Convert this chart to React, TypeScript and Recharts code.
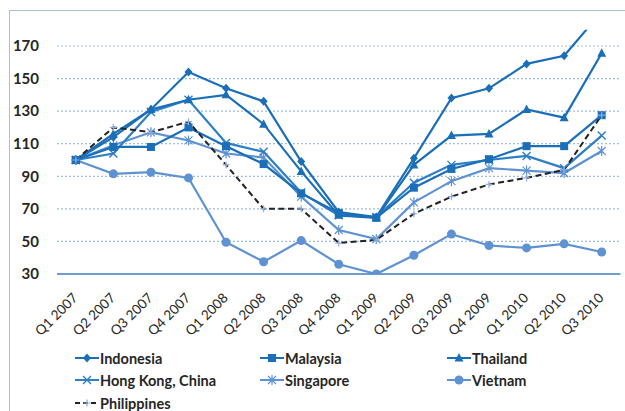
import React from "react";
import { LineChart, Line, XAxis, YAxis, CartesianGrid } from "recharts";

// ── Data ──────────────────────────────────────────────────────────────────────

const quarters = [
  "Q1 2007", "Q2 2007", "Q3 2007", "Q4 2007",
  "Q1 2008", "Q2 2008", "Q3 2008", "Q4 2008",
  "Q1 2009", "Q2 2009", "Q3 2009", "Q4 2009",
  "Q1 2010", "Q2 2010", "Q3 2010",
];

const indonesia = [100, 114, 131, 154, 144, 136, 99, 68, 65, 101, 138, 144, 159, 164, 191];
const malaysia = [100, 108, 108, 120, 108.5, 97.5, 79.5, 67.5, 64.5, 83, 94.5, 100.5, 108.5, 108.5, 127.5];
const thailand = [100, 116, 131, 137, 140, 122, 93, 66, 64.5, 97, 115, 116, 131, 126, 165.5];
const hongKong = [100, 104, 129.5, 137, 110.5, 105, 80, 66, 65, 86, 97, 100, 102.5, 95, 115];
const singapore = [100, 109, 117, 112, 104, 101.5, 77.5, 57, 51.5, 74, 87, 95, 93.5, 92, 105.5];
const vietnam = [100, 91.5, 92.5, 89, 49.5, 37.5, 50.5, 36, 30, 41.5, 54.5, 47.5, 46, 48.5, 43.5];
const philippines = [100, 120, 117, 123.5, 97, 70, 70, 49, 51, 67, 77.5, 85, 89, 94, 127.5];

const yTicks = [30, 50, 70, 90, 110, 130, 150, 170];

// ── Styles ────────────────────────────────────────────────────────────────────

const FONT = "Lato, 'Noto Sans', sans-serif";
const DARK = "#1b6fb9";
const MID = "#2f7fc6";
const LIGHT = "#5f92d2";
const TEXT = "#262626";

type Shape = "diamond" | "square" | "triangle" | "x" | "star" | "circle" | "plus";

interface SeriesDef {
  key: string;
  name: string;
  values: number[];
  color: string;
  shape: Shape;
  dashed?: boolean;
  markerColor?: string;
}

const series: SeriesDef[] = [
  { key: "vietnam", name: "Vietnam", values: vietnam, color: LIGHT, shape: "circle" },
  { key: "singapore", name: "Singapore", values: singapore, color: LIGHT, shape: "star" },
  { key: "hongKong", name: "Hong Kong, China", values: hongKong, color: MID, shape: "x" },
  { key: "malaysia", name: "Malaysia", values: malaysia, color: DARK, shape: "square" },
  { key: "thailand", name: "Thailand", values: thailand, color: DARK, shape: "triangle" },
  { key: "indonesia", name: "Indonesia", values: indonesia, color: DARK, shape: "diamond" },
  { key: "philippines", name: "Philippines", values: philippines, color: "#222", shape: "plus", dashed: true, markerColor: "#8fb0dc" },
];

const legendOrder = ["indonesia", "malaysia", "thailand", "hongKong", "singapore", "vietnam", "philippines"];

const data = quarters.map((q, i) => {
  const row: Record<string, string | number> = { quarter: q };
  series.forEach((s) => {
    row[s.key] = s.values[i];
  });
  return row;
});

// ── Markers ───────────────────────────────────────────────────────────────────

function Marker({ cx, cy, shape, color }: { cx: number; cy: number; shape: Shape; color: string }) {
  switch (shape) {
    case "diamond":
      return <path d={`M${cx},${cy - 4.5}L${cx + 4},${cy}L${cx},${cy + 4.5}L${cx - 4},${cy}Z`} fill={color} />;
    case "square":
      return <rect x={cx - 4} y={cy - 4} width={8} height={8} fill={color} />;
    case "triangle":
      return <path d={`M${cx},${cy - 5}L${cx + 4.5},${cy + 3.5}L${cx - 4.5},${cy + 3.5}Z`} fill={color} />;
    case "x":
      return (
        <path
          d={`M${cx - 4},${cy - 4}L${cx + 4},${cy + 4}M${cx - 4},${cy + 4}L${cx + 4},${cy - 4}`}
          stroke={color}
          strokeWidth={1.4}
        />
      );
    case "star":
      return (
        <path
          d={`M${cx - 4},${cy - 4}L${cx + 4},${cy + 4}M${cx - 4},${cy + 4}L${cx + 4},${cy - 4}M${cx},${cy - 5}L${cx},${cy + 5}`}
          stroke={color}
          strokeWidth={1.2}
        />
      );
    case "circle":
      return <circle cx={cx} cy={cy} r={4.5} fill={color} />;
    case "plus":
      return (
        <path
          d={`M${cx - 3.5},${cy}L${cx + 3.5},${cy}M${cx},${cy - 3.5}L${cx},${cy + 3.5}`}
          stroke={color}
          strokeWidth={1.2}
        />
      );
  }
}

function XTick({ x, y, payload }: { x?: number; y?: number; payload?: { value: string } }) {
  return (
    <g transform={`translate(${x},${(y ?? 0) + 14})`}>
      <text
        transform="rotate(-45)"
        textAnchor="end"
        x={0}
        y={0}
        dy={4}
        fontSize={13.5}
        fontFamily={FONT}
        fill={TEXT}
      >
        {payload?.value}
      </text>
    </g>
  );
}

// ── Legend ────────────────────────────────────────────────────────────────────

const legendCols = [75, 260, 447];
const legendRows = [358, 380, 403];

function LegendItem({ s, left, top }: { s: SeriesDef; left: number; top: number }) {
  return (
    <div
      style={{
        position: "absolute",
        left,
        top: top - 10,
        height: 20,
        display: "flex",
        alignItems: "center",
        fontFamily: FONT,
        fontWeight: 700,
        fontSize: 14.5,
        color: TEXT,
        whiteSpace: "nowrap",
      }}
    >
      <svg width={24} height={20} style={{ marginRight: 1 }}>
        <line
          x1={0}
          y1={10}
          x2={24}
          y2={10}
          stroke={s.color}
          strokeWidth={2}
          strokeDasharray={s.dashed ? "5 3" : undefined}
        />
        <Marker cx={12} cy={10} shape={s.shape} color={s.markerColor ?? s.color} />
      </svg>
      {s.name}
    </div>
  );
}

// ── Main ──────────────────────────────────────────────────────────────────────

export default function App() {
  return (
    <div style={{ position: "absolute", left: 0, top: 0, width: 625, height: 411, background: "#fff", overflow: "hidden" }}>
      <div
        style={{
          position: "absolute",
          left: 9,
          top: 10,
          width: 700,
          height: 500,
          border: "1.5px solid #a9c0dc",
        }}
      />
      <div style={{ position: "absolute", left: 0, top: 0 }}>
        <LineChart width={625} height={411} data={data} margin={{ top: 29.7, right: 4.5, left: 10, bottom: 0 }}>
          <CartesianGrid
            horizontal
            vertical={false}
            stroke="#9dbde2"
            strokeDasharray="2 2"
            strokeWidth={1.2}
            horizontalValues={[50, 70, 90, 110, 130, 150, 170]}
          />
          <XAxis
            dataKey="quarter"
            interval={0}
            padding={{ left: 18.8, right: 18.8 }}
            axisLine={{ stroke: "#3f7cc2", strokeWidth: 1.5 }}
            tickLine={false}
            tick={<XTick />}
            height={137}
          />
          <YAxis
            width={47}
            domain={[30, 180]}
            ticks={yTicks}
            interval={0}
            allowDataOverflow
            axisLine={false}
            tickLine={false}
            tickMargin={12}
            tick={{ fontSize: 15, fontWeight: 700, fill: TEXT, fontFamily: FONT }}
          />
          {series.map((s) => (
            <Line
              key={s.key}
              dataKey={s.key}
              name={s.name}
              type="linear"
              stroke={s.color}
              strokeWidth={s.dashed ? 2 : 2.2}
              strokeDasharray={s.dashed ? "6 3.5" : undefined}
              isAnimationActive={false}
              activeDot={false}
              dot={(p: { cx?: number; cy?: number; index?: number }) => (
                <Marker
                  key={`${s.key}-${p.index}`}
                  cx={p.cx ?? 0}
                  cy={p.cy ?? 0}
                  shape={s.shape}
                  color={s.markerColor ?? s.color}
                />
              )}
            />
          ))}
        </LineChart>
      </div>
      {legendOrder.map((k, i) => {
        const s = series.find((d) => d.key === k)!;
        return <LegendItem key={k} s={s} left={legendCols[i % 3]} top={legendRows[Math.floor(i / 3)]} />;
      })}
    </div>
  );
}
